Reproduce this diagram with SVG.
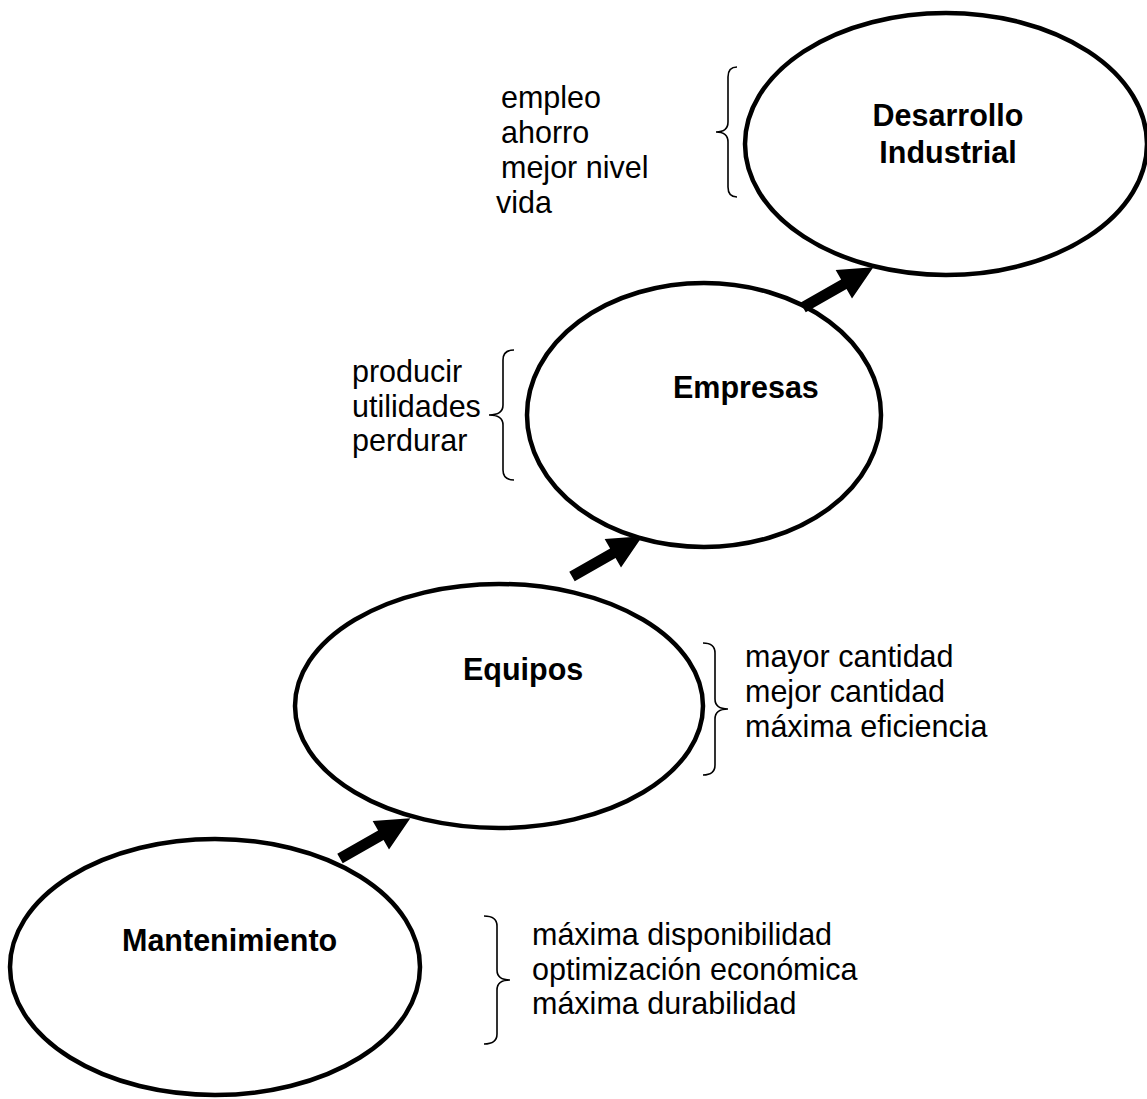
<svg xmlns="http://www.w3.org/2000/svg" width="1147" height="1099" viewBox="0 0 1147 1099">
<style>
.node{fill:#fff;stroke:#000;stroke-width:4.5}
.t{font-family:"Liberation Sans",Arial,sans-serif;font-size:30.5px;fill:#000}
.b{font-weight:bold}
.br{fill:none;stroke:#000;stroke-width:1.6}
</style>
<defs>
<path id="arr" d="M0,-5.5 L47,-5.5 L47,-16.5 L81,0 L47,16.5 L47,5.5 L0,5.5 Z" fill="#000"/>
</defs>
<g id="node-desarrollo">
<ellipse class="node" cx="946" cy="144" rx="201" ry="131"/>
<text class="t b" x="948" y="126" text-anchor="middle">Desarrollo</text>
<text class="t b" x="948" y="163" text-anchor="middle">Industrial</text>
</g>
<g id="node-empresas">
<ellipse class="node" cx="704" cy="415" rx="177" ry="132"/>
<text class="t b" x="673" y="398">Empresas</text>
</g>
<g id="node-equipos">
<ellipse class="node" cx="499" cy="706" rx="204" ry="122"/>
<text class="t b" x="463" y="680">Equipos</text>
</g>
<g id="node-mantenimiento">
<ellipse class="node" cx="215" cy="967" rx="205" ry="128"/>
<text class="t b" x="122" y="951">Mantenimiento</text>
</g>
<g id="connectors">
<use href="#arr" transform="translate(340,858.5) rotate(-29.7)"/>
<use href="#arr" transform="translate(572,576.5) rotate(-29.7)"/>
<use href="#arr" transform="translate(803,307.5) rotate(-29.7)"/>
</g>
<g id="note-desarrollo">
<path class="br" d="M737,67 Q728,67 728,77 L728,122 Q728,132 716,132 Q728,132 728,142 L728,187 Q728,197 737,197"/>
<text class="t" x="501" y="108">empleo</text>
<text class="t" x="501" y="143">ahorro</text>
<text class="t" x="501" y="178">mejor nivel</text>
<text class="t" x="496" y="213">vida</text>
</g>
<g id="note-empresas">
<path class="br" d="M514,350 Q503,350 503,360 L503,405 Q503,415 489,415 Q503,415 503,425 L503,470 Q503,480 514,480"/>
<text class="t" x="352" y="382">producir</text>
<text class="t" x="352" y="416.5">utilidades</text>
<text class="t" x="352" y="451">perdurar</text>
</g>
<g id="note-equipos">
<path class="br" d="M703,643 Q715,643 715,653 L715,699 Q715,709 728,709 Q715,709 715,719 L715,765 Q715,775 703,775"/>
<text class="t" x="745" y="667">mayor cantidad</text>
<text class="t" x="745" y="702">mejor cantidad</text>
<text class="t" x="745" y="737">máxima eficiencia</text>
</g>
<g id="note-mantenimiento">
<path class="br" d="M484,916 Q497,916 497,926 L497,970 Q497,980 510,980 Q497,980 497,990 L497,1034 Q497,1044 484,1044"/>
<text class="t" x="532" y="945">máxima disponibilidad</text>
<text class="t" x="532" y="980">optimización económica</text>
<text class="t" x="532" y="1014">máxima durabilidad</text>
</g>
</svg>
